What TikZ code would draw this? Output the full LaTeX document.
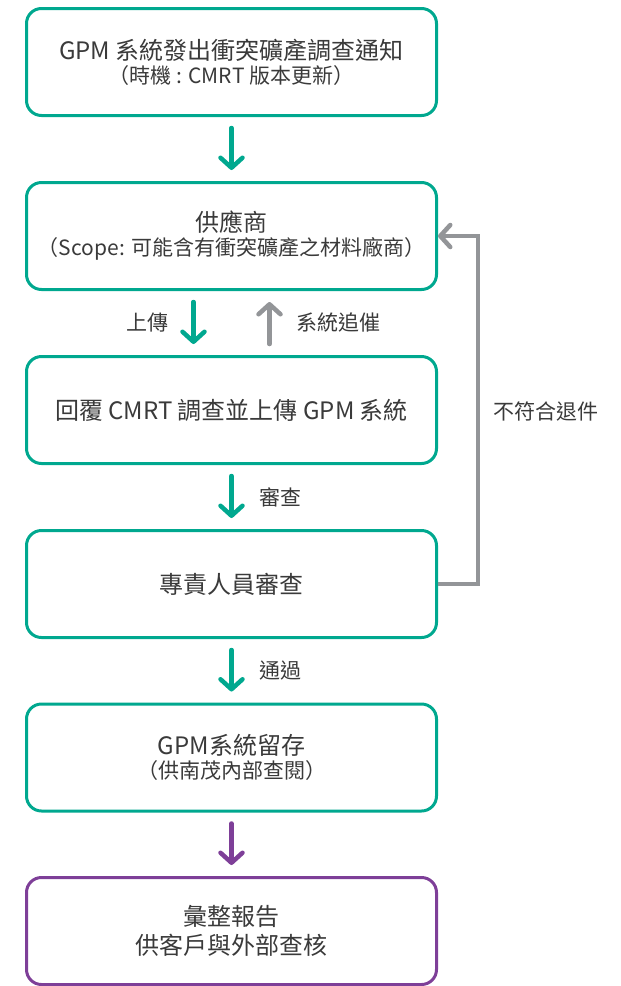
\documentclass[tikz,border=0pt]{standalone}
\usepackage{fontspec}
\setmainfont{Noto Sans CJK TC}
\usepackage{xcolor}
\usepackage{tikz}
\usetikzlibrary{arrows.meta}
\definecolor{greenx}{HTML}{00A88F}
\definecolor{greyx}{HTML}{939598}
\definecolor{purplex}{HTML}{7E3F98}
\definecolor{textx}{HTML}{3A3A3A}
\tikzset{
  box/.style={draw=greenx,line width=3pt,rounded corners=15pt,minimum width=410pt,minimum height=107pt,align=center,text=textx,font=\fontsize{24}{29}\selectfont},
  ar/.style={-{Straight Barb[round,length=10pt,width=22pt]},line width=4.5pt,line cap=round,greenx,shorten <=11pt,shorten >=11pt},
  lbl/.style={text=textx,font=\fontsize{21}{26}\selectfont}
}
\newcommand{\subline}[1]{{\fontsize{21}{26}\selectfont #1}}

\begin{document}
\begin{tikzpicture}[x=1pt,y=-1pt]
\useasboundingbox (0,0) rectangle (621,986);
\node[box] (notice) at (231.5,62) {GPM 系統發出衝突礦產調查通知\\[-5pt]\subline{（時機 : CMRT 版本更新）}};
\node[box] (supplier) at (231.5,236) {供應商\\[-5pt]\subline{（Scope: 可能含有衝突礦產之材料廠商）}};
\node[box] (reply) at (231.5,410) {回覆 CMRT 調查並上傳 GPM 系統};
\node[box] (review) at (231.5,584) {專責人員審查};
\node[box] (keep) at (231.5,757.5) {GPM系統留存\\[-5pt]\subline{（供南茂內部查閱）}};
\node[box,draw=purplex] (report) at (231.5,931) {彙整報告\\供客戶與外部查核};
\draw[ar] (notice) -- (supplier);
\draw[ar] ([xshift=-38pt]supplier.south) -- ([xshift=-38pt]reply.north);
\draw[ar,greyx] ([xshift=38pt]reply.north) -- ([xshift=38pt]supplier.south);
\draw[ar] (reply) -- (review);
\draw[ar] (review) -- (keep);
\draw[ar,purplex] (keep) -- (report);
\node[lbl] (upload) at (147,323) {上傳};
\node[lbl] (urge) at (338,323) {系統追催};
\node[lbl] (check) at (280,497) {審查};
\node[lbl] (pass) at (280,671) {通過};
\draw[ar,greyx,line cap=butt,shorten <=0pt,shorten >=0pt] (review.east) -- ++(40,0) |- (supplier.east);
\node[lbl] (reject) at (546,411) {不符合退件};
\end{tikzpicture}
\end{document}
